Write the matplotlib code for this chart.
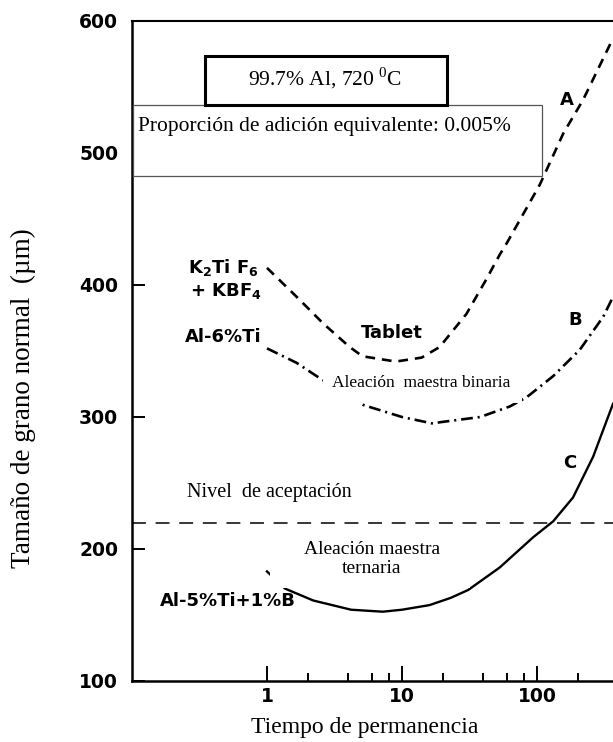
import matplotlib
matplotlib.use("Agg")
import matplotlib.pyplot as plt
from matplotlib.patches import Rectangle
from matplotlib.ticker import FixedLocator, NullFormatter

# Curva A: K2TiF6 + KBF4 (tableta)
a_time = [1.0, 1.66, 2.6, 4.1, 5.1, 9.0, 14, 19, 30, 42, 53, 60, 105, 157, 219, 347, 366]
a_size = [413, 391, 371, 353, 346, 342, 345, 353, 378, 404, 423, 432, 476, 515, 540, 582, 587]

# Curva B: Al-6%Ti (aleación maestra binaria)
b_time = [1.0, 1.66, 2.33, 5.2, 10, 17, 19, 38, 63, 84, 132, 208, 310, 366]
b_size = [352, 341, 331, 309, 300, 295, 296, 300, 308, 315, 331, 351, 376, 391]

# Curva C: Al-5%Ti+1%B (aleación maestra ternaria)
c_time = [1.0, 1.36, 2.2, 4.2, 7.2, 10, 16, 23, 31, 53, 94, 132, 185, 261, 366]
c_size = [183, 170, 161, 154, 152.5, 154, 157.5, 163, 169, 186, 209, 221, 239, 270, 310]

accept_level = 220

x_ticks = [1, 10, 100]
x_tick_labels = ["1", "10", "100"]
x_minor_ticks = [2, 4, 6, 8, 20, 40, 60, 80, 200]
y_ticks = [100, 200, 300, 400, 500, 600]
y_tick_labels = ["100", "200", "300", "400", "500", "600"]

plt.rcParams["lines.scale_dashes"] = False
plt.rcParams["mathtext.fontset"] = "custom"
plt.rcParams["mathtext.rm"] = "Liberation Serif"
plt.rcParams["mathtext.sf"] = "DejaVu Sans:bold"
plt.rcParams["font.family"] = ["DejaVu Sans"]

W, H = 613, 742
SERIF = ["Liberation Serif", "DejaVu Serif"]


def fx(px):
    return px / W


def fy(py):
    return 1 - py / H


fig = plt.figure(figsize=(W / 100, H / 100), dpi=100)
ax = fig.add_axes([fx(132), fy(681), fx(613) - fx(132), fy(21) - fy(681)])

ax.plot(a_time, a_size, color="black", lw=1.9, linestyle=(0, (7, 5)))
ax.plot(b_time, b_size, color="black", lw=1.9, linestyle=(0, (8.5, 3.5, 1.5, 3.5)))
ax.plot(c_time, c_size, color="black", lw=1.7)
ax.axhline(accept_level, color="black", lw=1.1, linestyle=(0, (10, 7)))

ax.set_xscale("log")
ax.set_xlim(0.1, 366)
ax.set_ylim(100, 600)
ax.set_xticks(x_ticks)
ax.set_xticklabels(x_tick_labels)
ax.xaxis.set_minor_locator(FixedLocator(x_minor_ticks))
ax.xaxis.set_minor_formatter(NullFormatter())
ax.set_yticks(y_ticks)
ax.set_yticklabels(y_tick_labels)
ax.tick_params(axis="x", which="major", direction="in", length=11, width=1.4, pad=4, labelsize=13.5)
ax.tick_params(axis="x", which="minor", direction="in", length=6, width=1.4)
ax.tick_params(axis="y", direction="in", length=9, width=1.4, pad=10, labelsize=13.5)
for lbl in ax.get_xticklabels() + ax.get_yticklabels():
    lbl.set_fontweight("bold")

ax.spines["right"].set_visible(False)
for s in ("left", "bottom"):
    ax.spines[s].set_linewidth(1.8)
ax.spines["top"].set_linewidth(1.5)

# etiquetas de las curvas (tipo de letra del gráfico original)
lab = dict(fontsize=13, fontweight="bold", color="black", transform=fig.transFigure, zorder=7)
fig.text(fx(188), fy(267), r"K$_{\mathsf{2}}$Ti F$_{\mathsf{6}}$", ha="left", va="center", **lab)
fig.text(fx(190), fy(291), r"+ KBF$_{\mathsf{4}}$", ha="left", va="center", **lab)
fig.text(fx(185), fy(337), "Al-6%Ti", ha="left", va="center", **lab)
fig.text(fx(392), fy(333), "Tablet", ha="center", va="center", **lab)
fig.text(fx(160), fy(601), "Al-5%Ti+1%B", ha="left", va="center", **lab)
fig.text(fx(567), fy(100), "A", ha="center", va="center", **lab)
fig.text(fx(575), fy(320), "B", ha="center", va="center", **lab)
fig.text(fx(570), fy(463), "C", ha="center", va="center", **lab)

# cuadros de texto superiores
fig.add_artist(Rectangle((fx(133), fy(176)), fx(542) - fx(133), fy(105) - fy(176),
                         transform=fig.transFigure, facecolor="white", edgecolor="#555555",
                         lw=0.9, zorder=5))
fig.add_artist(Rectangle((fx(205), fy(105)), fx(447) - fx(205), fy(56) - fy(105),
                         transform=fig.transFigure, facecolor="white", edgecolor="black",
                         lw=2.2, zorder=6))
fig.text(fx(325), fy(78), r"99.7% Al, 720 $^{\mathrm{0}}$C", ha="center", va="center",
         family=SERIF, fontsize=15.5, zorder=7)
fig.text(fx(138), fy(126), "Proporción de adición equivalente: 0.005%", ha="left", va="center",
         family=SERIF, fontsize=15.5, zorder=7)

# parches blancos con las anotaciones en español
fig.add_artist(Rectangle((fx(323), fy(403)), fx(522) - fx(323), fy(363) - fy(403),
                         transform=fig.transFigure, facecolor="white", edgecolor="none", zorder=4))
fig.text(fx(421), fy(383), "Aleación  maestra binaria", ha="center", va="center",
         family=SERIF, fontsize=12.5, zorder=7)
fig.add_artist(Rectangle((fx(270), fy(588)), fx(470) - fx(270), fy(532) - fy(588),
                         transform=fig.transFigure, facecolor="white", edgecolor="none", zorder=4))
fig.text(fx(372), fy(559), "Aleación maestra\nternaria", ha="center", va="center",
         family=SERIF, fontsize=14, linespacing=1.1, zorder=7)
fig.text(fx(269), fy(492), "Nivel  de aceptación", ha="center", va="center",
         family=SERIF, fontsize=14.5, zorder=7)

fig.text(fx(23), fy(398), "Tamaño de grano normal  (µm)", rotation=90, ha="center", va="center",
         family=SERIF, fontsize=19.5)
fig.text(fx(365), fy(728), "Tiempo de permanencia", ha="center", va="center",
         family=SERIF, fontsize=17)

fig.savefig("out.png", dpi=100)
